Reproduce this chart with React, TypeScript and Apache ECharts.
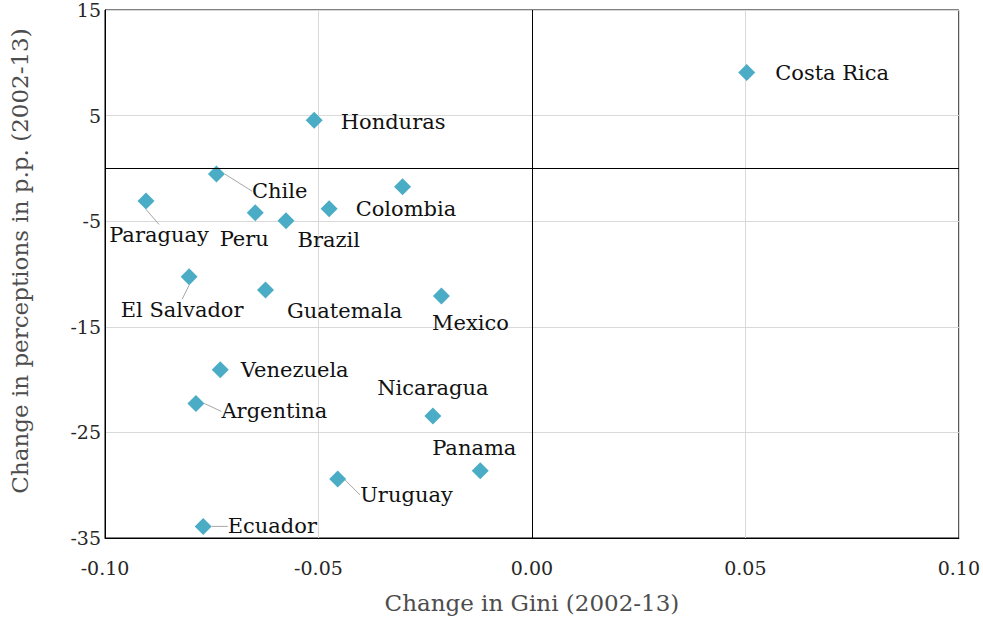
import React, { useEffect, useRef } from "react";
import * as echarts from "echarts";

const countries = [
  "Costa Rica", "Honduras", "Chile", "", "Paraguay", "Peru", "Brazil", "Colombia",
  "El Salvador", "Guatemala", "Mexico", "Venezuela", "Argentina", "Nicaragua",
  "Panama", "Uruguay", "Ecuador",
];
const giniChange = [
  0.0503, -0.051, -0.0739, -0.0303, -0.0904, -0.0648, -0.0576, -0.0475,
  -0.0803, -0.0624, -0.0212, -0.073, -0.0787, -0.0232, -0.0121, -0.0455, -0.077,
];
const perceptionChange = [
  9.07, 4.55, -0.54, -1.73, -3.08, -4.21, -4.96, -3.83,
  -10.26, -11.52, -12.09, -19.06, -22.26, -23.45, -28.63, -29.42, -33.9,
];
const xAxisTitle = "Change in Gini (2002-13)";
const yAxisTitle = "Change in perceptions in p.p. (2002-13)";

// label placement: [position mode, dx, dy, leader line]
const labelPlacement: [string, number, number, boolean][] = [
  ["right", 20, 0, false],
  ["right", 18, 2, false],
  ["right", 27, 17, true],
  ["none", 0, 0, false],
  ["inside", 13, 34, true],
  ["inside", -11, 26, false],
  ["right", 3, 19, false],
  ["right", 18, 0, false],
  ["inside", -7, 33, true],
  ["right", 13, 21, false],
  ["inside", 29, 27, false],
  ["right", 12, 0, false],
  ["right", 17, 8, true],
  ["inside", 0, -28, false],
  ["inside", -6, -23, false],
  ["right", 14, 16, true],
  ["right", 16, 0, true],
];

const FONT = "'DejaVu Serif', serif";

export default function App() {
  const ref = useRef<HTMLDivElement>(null);
  useEffect(() => {
    if (!ref.current) return;
    const chart = echarts.init(ref.current, undefined, { renderer: "svg" });
    const data = countries.map((name, i) => {
      const [mode, , , leader] = labelPlacement[i];
      return {
        name,
        value: [giniChange[i], perceptionChange[i]],
        label: {
          show: mode !== "none",
          position: mode === "none" ? "right" : mode,
          distance: 0,
          align: mode === "inside" ? "center" : "left",
        },
        labelLine: { show: leader },
      };
    });
    chart.setOption({
      animation: false,
      grid: {
        left: 102,
        right: 23,
        top: 10,
        bottom: 78,
        show: true,
        borderColor: "#000",
        borderWidth: 1,
      },
      xAxis: {
        type: "value",
        min: -0.1,
        max: 0.1,
        interval: 0.05,
        axisLine: { onZero: false, show: true, lineStyle: { color: "#000" } },
        axisTick: { show: false },
        splitLine: { show: true, lineStyle: { color: "#d9d9d9", width: 1 } },
        axisLabel: {
          fontFamily: FONT,
          fontSize: 19,
          color: "#262626",
          margin: 20,
          formatter: (v: number) => v.toFixed(2),
        },
        name: xAxisTitle,
        nameLocation: "middle",
        nameGap: 53,
        nameTextStyle: { fontFamily: FONT, fontSize: 23, color: "#4d4d4d" },
      },
      yAxis: {
        type: "value",
        min: -35,
        max: 15,
        interval: 10,
        axisLine: { onZero: false, show: true, lineStyle: { color: "#000" } },
        axisTick: { show: false },
        splitLine: { show: true, lineStyle: { color: "#d9d9d9", width: 1 } },
        axisLabel: {
          fontFamily: FONT,
          fontSize: 19,
          color: "#262626",
          margin: 4,
        },
        name: yAxisTitle,
        nameLocation: "middle",
        nameGap: 74,
        nameTextStyle: {
          fontFamily: FONT,
          fontSize: 23,
          color: "#4d4d4d",
          padding: [0, 0, 0, 26],
        },
      },
      series: [
        {
          type: "scatter",
          symbol: "diamond",
          symbolSize: 17,
          itemStyle: { color: "#4bacc6", opacity: 1 },
          data,
          label: {
            fontFamily: FONT,
            fontSize: 21,
            color: "#111",
            formatter: (p: any) => p.name,
          },
          labelLine: {
            show: false,
            lineStyle: { color: "#a6a6a6", width: 1 },
          },
          labelLayout: (params: any) => {
            const pl = labelPlacement[params.dataIndex];
            return { dx: pl[1], dy: pl[2] };
          },
          markLine: {
            silent: true,
            symbol: "none",
            label: { show: false },
            lineStyle: { color: "#000", type: "solid", width: 1 },
            data: [{ xAxis: 0 }, { yAxis: 0 }],
          },
          z: 3,
        },
      ],
    });
    return () => chart.dispose();
  }, []);
  return <div ref={ref} style={{ width: 983, height: 619, position: "absolute", left: 0, top: 0 }} />;
}
